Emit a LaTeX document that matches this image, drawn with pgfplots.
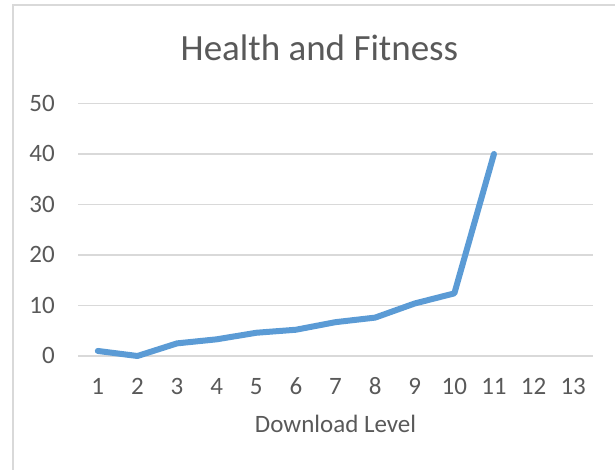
\documentclass[border=0pt]{standalone}
\usepackage{pgfplots}
\pgfplotsset{compat=1.18}
\usepackage{fontspec}
\setmainfont{Carlito}
\definecolor{txt}{HTML}{595959}
\definecolor{gridc}{HTML}{D9D9D9}
\definecolor{series}{HTML}{5B9BD5}
\begin{document}
\begin{tikzpicture}[x=1pt,y=1pt]
\path[use as bounding box] (0,0) rectangle (615,470);
% chart frame
\draw[gridc, line width=2pt] (13,-5) -- (13,465) -- (620,465);
% title
\node[anchor=base, inner sep=0pt, text=txt, font=\fontsize{37}{44}\selectfont] at (319.5,409) {Health and Fitness};
\begin{axis}[
  scale only axis, width=515pt, height=252.5pt,
  at={(78pt,114pt)}, anchor=south west,
  xmin=0.5, xmax=13.5, ymin=0, ymax=50,
  xtick={1,...,13}, ytick={0,10,...,50},
  axis line style={draw=none}, major tick length=0pt,
  ymajorgrids, grid style={color=gridc, line width=1.5pt},
  ticklabel style={font=\fontsize{25}{30}\selectfont, text=txt},
  yticklabel style={anchor=base east, inner sep=0pt, xshift=-23pt, yshift=-8pt},
  xticklabel style={anchor=base, inner sep=0pt, yshift=-39pt},
  /pgf/number format/assume math mode=true,
  xlabel={Download Level},
  xlabel style={anchor=base, inner sep=0pt, text=txt, font=\fontsize{25}{30}\selectfont, at={(axis description cs:0.5,0)}, yshift=-77pt},
  clip=false,
]
\addplot[series, line width=6pt, line join=round, line cap=round] coordinates {
  (1,1.0) (2,0) (3,2.5) (4,3.3) (5,4.6) (6,5.2) (7,6.7) (8,7.6) (9,10.4) (10,12.4) (11,40)
};
\end{axis}
\end{tikzpicture}
\end{document}
